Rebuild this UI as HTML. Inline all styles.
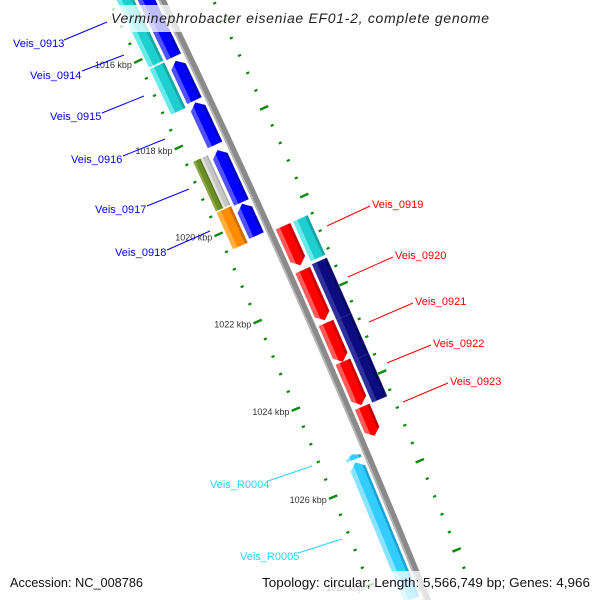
<!DOCTYPE html>
<html><head><meta charset="utf-8">
<style>
html,body{margin:0;padding:0;background:#fff;width:600px;height:600px;overflow:hidden;}
svg{display:block;overflow:hidden;}
text{font-family:"Liberation Sans",sans-serif;}
</style></head>
<body>
<svg id="map" width="600" height="600" viewBox="0 0 600 600" xmlns="http://www.w3.org/2000/svg">
<defs id="defs"></defs>
<rect x="0" y="0" width="600" height="600" fill="#fff"/>
<g id="ruler"></g>
<g id="backbone"></g>
<g id="features"></g>
<g id="labels">
<g stroke="#0000ff" stroke-width="1">
<line x1="64" y1="40" x2="107" y2="22"/>
<line x1="82" y1="71" x2="124" y2="55"/>
<line x1="102" y1="113" x2="144" y2="96"/>
<line x1="123" y1="156" x2="165" y2="139"/>
<line x1="147" y1="206" x2="189" y2="189"/>
<line x1="167" y1="250" x2="210" y2="231"/>
</g>
<g fill="#0000ff" font-size="11">
<text x="13" y="47">Veis_0913</text>
<text x="30" y="79">Veis_0914</text>
<text x="50" y="120">Veis_0915</text>
<text x="71" y="163">Veis_0916</text>
<text x="95" y="213">Veis_0917</text>
<text x="115" y="256">Veis_0918</text>
</g>
<g stroke="#ff0000" stroke-width="1">
<line x1="327" y1="226" x2="370" y2="206"/>
<line x1="348" y1="277" x2="393" y2="257"/>
<line x1="369" y1="322" x2="413" y2="303"/>
<line x1="387" y1="363" x2="431" y2="345"/>
<line x1="403" y1="402" x2="448" y2="383"/>
</g>
<g fill="#ff0000" font-size="11">
<text x="372" y="208">Veis_0919</text>
<text x="395" y="259">Veis_0920</text>
<text x="415" y="305">Veis_0921</text>
<text x="433" y="347">Veis_0922</text>
<text x="450" y="385">Veis_0923</text>
</g>
<g stroke="#33ccff" stroke-width="1">
<line x1="268" y1="481" x2="312" y2="466"/>
<line x1="298" y1="553" x2="342" y2="539"/>
</g>
<g fill="#33ccff" font-size="11">
<text x="210" y="488">Veis_R0004</text>
<text x="240" y="560">Veis_R0005</text>
</g>
</g>
<rect x="108" y="5" width="386" height="27" fill="#fff" fill-opacity="0.75"/>
<text x="111" y="23" font-size="14" font-style="italic" fill="#222" textLength="378" lengthAdjust="spacing">Verminephrobacter eiseniae EF01-2, complete genome</text>
<rect x="0" y="571" width="600" height="29" fill="#fff" fill-opacity="0.75"/>
<text x="10" y="587" font-size="12.5" fill="#111" textLength="133" lengthAdjust="spacingAndGlyphs">Accession: NC_008786</text>
<text x="262" y="587" font-size="12.5" fill="#111" textLength="328" lengthAdjust="spacingAndGlyphs">Topology: circular; Length: 5,566,749 bp; Genes: 4,966</text>
</svg>
<script>
// ---- data (kbp) ----
const featStart  = [1014.0, 1016.33, 1017.29, 1018.39, 1019.62, 1014.0, 1016.26, 1018.4, 1018.4, 1019.57, 1020.4, 1021.4, 1022.6, 1023.48, 1024.5, 1020.4, 1021.37, 1022.63, 1023.54, 1025.51, 1025.33];
const featEnd    = [1016.24, 1017.25, 1018.27, 1019.59, 1020.35, 1016.22, 1017.31, 1019.54, 1019.54, 1020.41, 1021.29, 1022.54, 1023.48, 1024.46, 1025.16, 1021.3, 1022.63, 1023.54, 1024.5, 1028.6, 1025.45];
const featStrand = [-1, -1, -1, -1, -1, -1, -1, -1, -1, -1, 1, 1, 1, 1, 1, 1, 1, 1, 1, -1, -1];
const featSlot   = ['in1','in1','in1','in1','in1','in2','in2','in2a','in2b','in2','out1','out1','out1','out1','out1','out2','out2','out2','out2','in1','in1'];
const featKind   = ['blue','blue','blue','blue','blue','cyan','cyan','olive','gray','orange','red','red','red','red','red','cyan','navy','navy','navy','lightblue','lightblue'];
const featArrow  = ['rev','rev','rev','rev','rev','none','none','none','none','none','fwd','fwd','fwd','fwd','fwd','none','none','none','none','rev','rev'];
const tickStartKbp = 1012;
const tickStepKbp = 0.4;
const tickCount = 46;
const tickLabelKbp = [1016, 1018, 1020, 1022, 1024, 1026, 1028];

// ---- geometry / styles ----
const R = 10000, CX = -8847, CY = 4340, K0 = 1020.6, PX = 48, TH0 = 65.8*Math.PI/180;
function P(k, r){ const th = TH0 + (k-K0)*PX/R; return [CX + r*Math.sin(th), CY - r*Math.cos(th)]; }
const SLOTS = {in1:[R-22,R-6], in2:[R-41,R-25], in2a:[R-41,R-33], in2b:[R-33,R-25], out1:[R+6,R+22], out2:[R+25,R+41]};
const COLORS = {
 blue:['#5050ff','#0000ff','#0000c0'], cyan:['#66eaea','#1fcfcf','#17a6a6'], red:['#ff5a5a','#ff0000','#c80000'],
 navy:['#30309c','#0c0c80','#07075c'], olive:['#8fa646','#6b8e23','#52701a'], gray:['#e2e2e2','#c6c6c6','#a8a8a8'],
 orange:['#ffb040','#ff8c00','#cc6e00'], lightblue:['#8ae4ff','#33ccff','#1ea2d6']
};
const NS = 'http://www.w3.org/2000/svg';
const pts = a => a.map(p => p[0].toFixed(2)+','+p[1].toFixed(2)).join(' ');

// backbone
(function(){
  const g = document.getElementById('backbone');
  const left = [], outer = [], inner = [];
  for (let k = 1011; k <= 1031; k += 0.5){ outer.push(P(k, R+3.5)); inner.push(P(k, R-3.5)); left.push(P(k, R-2.5)); }
  const poly = document.createElementNS(NS, 'polygon');
  poly.setAttribute('points', pts(outer.concat(inner.reverse())));
  poly.setAttribute('fill', '#8a8a8a');
  
  
  g.appendChild(poly);
  const pl = document.createElementNS(NS, 'polyline');
  pl.setAttribute('points', pts(left));
  pl.setAttribute('fill', 'none');
  pl.setAttribute('stroke', '#b8b8b8');
  pl.setAttribute('stroke-width', '1.6');
  
  
  g.appendChild(pl);
})();

// rulers
(function(){
  const g = document.getElementById('ruler');
  for (let i = 0; i < tickCount; i++){
    const k = tickStartKbp + i*tickStepKbp;
    const major = (i % 5 === 0);
    [[R-48, -1],[R+46, 1]].forEach(([rc, side]) => {
      const half = major ? 4.5 : 1.6;
      const a = P(k, rc-half), b = P(k, rc+half);
      const ln = document.createElementNS(NS, 'line');
      ln.setAttribute('x1', a[0]); ln.setAttribute('y1', a[1]);
      ln.setAttribute('x2', b[0]); ln.setAttribute('y2', b[1]);
      ln.setAttribute('stroke', '#0a8a0a');
      ln.setAttribute('stroke-width', major ? '2.4' : '2.2');
      
      
      g.appendChild(ln);
    });
  }
  tickLabelKbp.forEach(k => {
    const p = P(k - 0.15, R-72);
    const t = document.createElementNS(NS, 'text');
    t.setAttribute('x', p[0].toFixed(1)); t.setAttribute('y', (p[1]+3).toFixed(1));
    t.setAttribute('text-anchor', 'middle');
    t.setAttribute('font-size', '9');
    t.setAttribute('fill', '#333');
    
    
    t.textContent = k + ' kbp';
    g.appendChild(t);
  });
})();

// features
(function(){
  const g = document.getElementById('features');
  const defs = document.getElementById('defs');
  for (let i = 0; i < featStart.length; i++){
    const k1 = featStart[i], k2 = featEnd[i];
    const [r1, r2] = SLOTS[featSlot[i]];
    const rm = (r1+r2)/2;
    const hk = Math.min(0.14, (k2-k1)*0.6);
    let shape;
    if (featArrow[i] === 'fwd') shape = [P(k1,r1),P(k2-hk,r1),P(k2,rm),P(k2-hk,r2),P(k1,r2)];
    else if (featArrow[i] === 'rev') shape = [P(k1,rm),P(k1+hk,r1),P(k2,r1),P(k2,r2),P(k1+hk,r2)];
    else shape = [P(k1,r1),P(k2,r1),P(k2,r2),P(k1,r2)];
    const col = COLORS[featKind[i]];
    const km = (k1+k2)/2, a = P(km, r1), b = P(km, r2);
    const gr = document.createElementNS(NS, 'linearGradient');
    gr.setAttribute('id', 'fg'+i);
    gr.setAttribute('gradientUnits', 'userSpaceOnUse');
    gr.setAttribute('x1', a[0]); gr.setAttribute('y1', a[1]);
    gr.setAttribute('x2', b[0]); gr.setAttribute('y2', b[1]);
    [[0,col[0]],[0.28,col[0]],[0.29,col[1]],[0.82,col[1]],[0.83,col[2]],[1,col[2]]].forEach(([o,c]) => {
      const s = document.createElementNS(NS, 'stop');
      s.setAttribute('offset', o); s.setAttribute('stop-color', c);
      gr.appendChild(s);
    });
    defs.appendChild(gr);
    const poly = document.createElementNS(NS, 'polygon');
    poly.setAttribute('points', pts(shape));
    poly.setAttribute('fill', 'url(#fg'+i+')');
    if (featKind[i] === 'navy'){ poly.setAttribute('stroke', '#3a3aa8'); poly.setAttribute('stroke-width', '0.5'); }
    
    
    g.appendChild(poly);
  }
})();
</script>
</body></html>
